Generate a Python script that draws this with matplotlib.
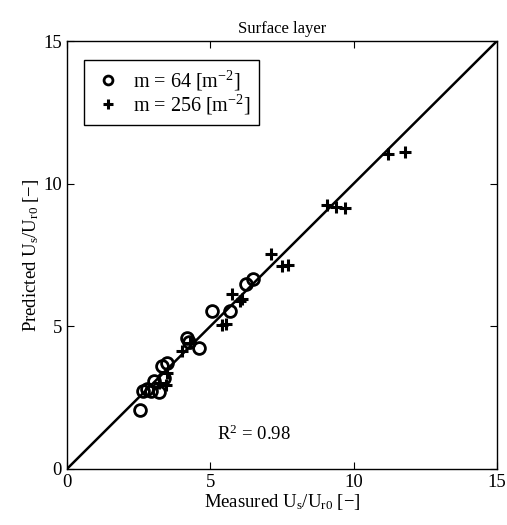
import matplotlib
matplotlib.use("Agg")
import matplotlib.pyplot as plt

plt.rcParams["font.family"] = ["Liberation Serif", "DejaVu Serif"]
plt.rcParams["mathtext.fontset"] = "custom"
plt.rcParams["mathtext.rm"] = "Liberation Serif"
plt.rcParams["mathtext.it"] = "Liberation Serif"
plt.rcParams["font.size"] = 13

# m = 64 series (open circles)
meas_64 = [2.55, 2.65, 2.8, 2.95, 3.05, 3.2, 3.4, 3.3, 3.5, 4.2, 4.25, 4.6,
           5.05, 5.7, 6.25, 6.5]
pred_64 = [2.07, 2.75, 2.8, 2.75, 3.1, 2.7, 3.2, 3.6, 3.7, 4.6, 4.45, 4.25,
           5.55, 5.55, 6.5, 6.65]

# m = 256 series (plus markers)
meas_256 = [3.2, 3.45, 3.5, 4.0, 4.3, 5.4, 5.55, 5.75, 6.05, 6.1, 7.12, 7.52,
            7.72, 9.06, 9.4, 9.7, 11.2, 11.8]
pred_256 = [3.0, 2.95, 3.35, 4.15, 4.4, 5.05, 5.1, 6.12, 5.9, 5.95, 7.53, 7.13,
            7.15, 9.25, 9.18, 9.16, 11.03, 11.12]

ticks = [0, 5, 10, 15]

fig = plt.figure(figsize=(5.07, 5.25), dpi=100)
ax = fig.add_axes([0.132, 0.1067, 0.848, 0.815])

ax.plot([0, 15], [0, 15], color="black", lw=1.8, zorder=1)
ax.plot(meas_64, pred_64, "o", mfc="none", mec="black", ms=8.5, mew=2.0,
        label=r"m = 64 [m$^{-2}$]", zorder=3)
ax.plot(meas_256, pred_256, "+", color="black", ms=9, mew=2.2,
        label=r"m = 256 [m$^{-2}$]", zorder=3)

ax.set_xlim(0, 15)
ax.set_ylim(0, 15)
ax.set_xticks(ticks)
ax.set_yticks(ticks)
ax.tick_params(direction="in", top=True, right=True, length=5, width=0.8,
               labelsize=13.5)
for s in ax.spines.values():
    s.set_linewidth(1.0)

ax.set_xlabel(r"Measured U$_s$/U$_{r0}$ [$-$]", fontsize=13.5, labelpad=1)
ax.set_ylabel(r"Predicted U$_s$/U$_{r0}$ [$-$]", fontsize=13.5, labelpad=2)
ax.set_title("Surface layer", fontsize=12, pad=6)
ax.text(5.25, 1.2, r"R$^2$ = 0.98", fontsize=13.5, va="center", ha="left")

leg = ax.legend(loc="upper left", bbox_to_anchor=(0.04, 0.955), fancybox=False,
                edgecolor="black", framealpha=1, handletextpad=0.45,
                handlelength=1.6, borderpad=0.4, labelspacing=0.0,
                borderaxespad=0, markerscale=0.75, fontsize=14.5)
leg.get_frame().set_linewidth(1.0)

fig.savefig("out.png", dpi=100)
